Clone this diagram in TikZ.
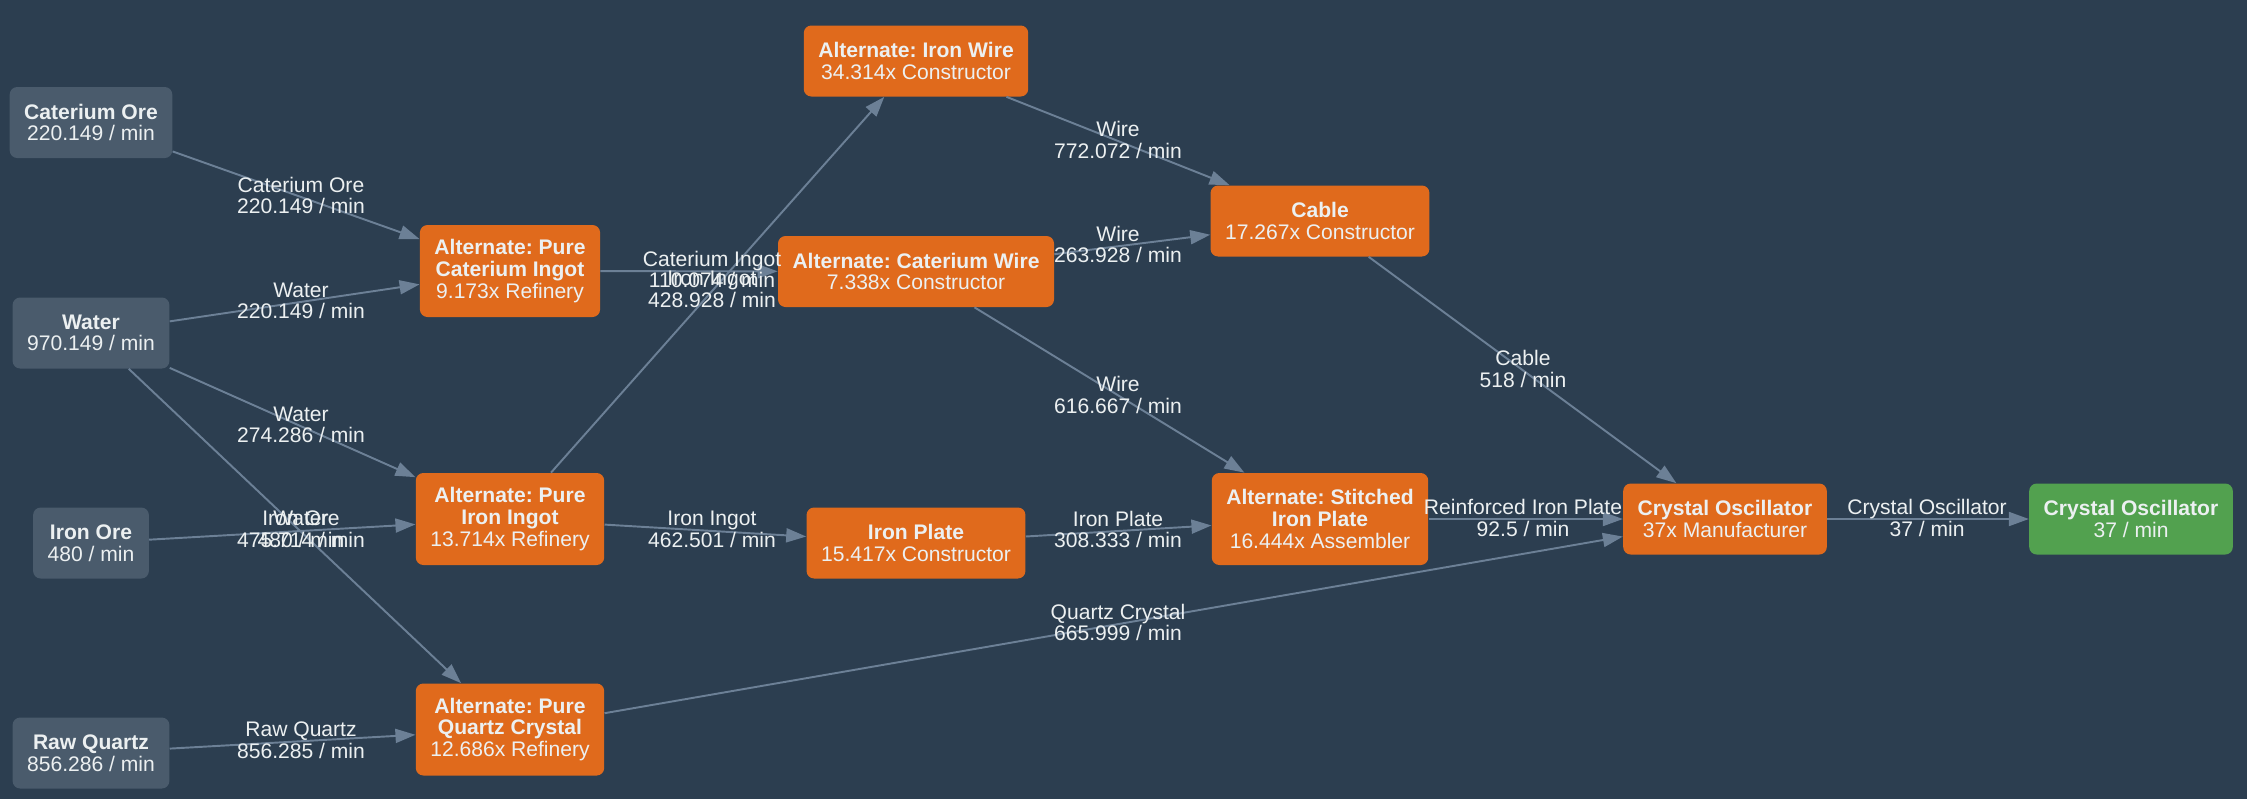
\documentclass[tikz,border=0pt]{standalone}
\usepackage{fontspec}
\setmainfont{Liberation Sans}
\usepackage{tikz}
\usetikzlibrary{arrows.meta}
\frenchspacing

\definecolor{bgcol}{RGB}{44,62,80}
\definecolor{rawcol}{RGB}{74,91,108}
\definecolor{recipecol}{RGB}{224,106,28}
\definecolor{outcol}{RGB}{82,161,79}
\definecolor{edgecol}{RGB}{108,128,150}
\definecolor{txtcol}{RGB}{236,240,241}

\tikzset{
  box/.style={rounded corners=0.15cm, text=txtcol, align=center, inner xsep=0.29cm, inner ysep=0pt, minimum height=1.42cm, font=\fontsize{12}{12.3}\selectfont},
  raw/.style={box, fill=rawcol},
  recipe/.style={box, fill=recipecol},
  tall/.style={minimum height=1.84cm},
  product/.style={box, fill=outcol},
  flow/.style={draw=edgecol, line width=1.1pt, -{Triangle[length=0.4cm,width=0.28cm]}},
  rate/.style={text=txtcol, align=center, inner sep=0pt, font=\fontsize{12}{12.3}\selectfont}
}

\begin{document}
\begin{tikzpicture}[x=0.02cm,y=-0.02cm]
  % Constants
  \pgfmathsetmacro\ca{91}
  \pgfmathsetmacro\cb{510}
  \pgfmathsetmacro\cc{916}
  \pgfmathsetmacro\cd{1320}
  \pgfmathsetmacro\ce{1725}
  \pgfmathsetmacro\cf{2131}
  % Boundary
  \path[use as bounding box] (0,0) rectangle (2247,799);
  \fill[bgcol] (0,0) rectangle (2247,799);
  % Resources
  \node[raw] (cateriumore) at (\ca,122.5) {{\bfseries Caterium Ore}\\220.149 / min};
  \node[raw] (water) at (\ca,333) {{\bfseries Water}\\970.149 / min};
  \node[raw] (ironore) at (\ca,543) {{\bfseries Iron Ore}\\480 / min};
  \node[raw] (rawquartz) at (\ca,753) {{\bfseries Raw Quartz}\\856.286 / min};
  % Refineries
  \node[recipe,tall] (pureingot) at (\cb,271) {{\bfseries Alternate: Pure}\\{\bfseries Caterium Ingot}\\9.173x Refinery};
  \node[recipe,tall] (pureiron) at (\cb,519) {{\bfseries Alternate: Pure}\\{\bfseries Iron Ingot}\\13.714x Refinery};
  \node[recipe,tall] (purequartz) at (\cb,729.5) {{\bfseries Alternate: Pure}\\{\bfseries Quartz Crystal}\\12.686x Refinery};
  % Constructors
  \node[recipe] (ironwire) at (\cc,61) {{\bfseries Alternate: Iron Wire}\\34.314x Constructor};
  \node[recipe] (catwire) at (\cc,271.5) {{\bfseries Alternate: Caterium Wire}\\7.338x Constructor};
  \node[recipe] (ironplate) at (\cc,543) {{\bfseries Iron Plate}\\15.417x Constructor};
  \node[recipe] (cable) at (\cd,221) {{\bfseries Cable}\\17.267x Constructor};
  \node[recipe,tall] (stitched) at (\cd,519) {{\bfseries Alternate: Stitched}\\{\bfseries Iron Plate}\\16.444x Assembler};
  \node[recipe] (oscillator) at (\ce,519) {{\bfseries Crystal Oscillator}\\37x Manufacturer};
  \node[product] (output) at (\cf,519) {{\bfseries Crystal Oscillator}\\37 / min};
  % Flows
  \draw[flow] (cateriumore) -- (pureingot);
  \draw[flow] (water) -- (pureingot);
  \draw[flow] (water) -- (pureiron);
  \draw[flow] (water) -- (purequartz);
  \draw[flow] (ironore) -- (pureiron);
  \draw[flow] (rawquartz) -- (purequartz);
  \draw[flow] (pureingot) -- (catwire);
  \draw[flow] (pureiron) -- (ironwire);
  \draw[flow] (pureiron) -- (ironplate);
  \draw[flow] (ironwire) -- (cable);
  \draw[flow] (catwire) -- (cable);
  \draw[flow] (catwire) -- (stitched);
  \draw[flow] (ironplate) -- (stitched);
  \draw[flow] (cable) -- (oscillator);
  \draw[flow] (stitched) -- (oscillator);
  \draw[flow] (purequartz) -- (oscillator);
  \draw[flow] (oscillator) -- (output);
  % Rates
  \node[rate] (r1) at (301,195.6) {Caterium Ore\\220.149 / min};
  \node[rate] (r2) at (301,301) {Water\\220.149 / min};
  \node[rate] (r3) at (301,425) {Water\\274.286 / min};
  \node[rate] (r4) at (301,529.5) {Water\\475.714 / min};
  \node[rate] (r5) at (301,529.5) {Iron Ore\\480 / min};
  \node[rate] (r6) at (301,740) {Raw Quartz\\856.285 / min};
  \node[rate] (r7) at (712,269.4) {Caterium Ingot\\110.074 / min};
  \node[rate] (r8) at (712,289.5) {Iron Ingot\\428.928 / min};
  \node[rate] (r9) at (712,529.5) {Iron Ingot\\462.501 / min};
  \node[rate] (r10) at (1118,139.7) {Wire\\772.072 / min};
  \node[rate] (r11) at (1118,244.3) {Wire\\263.928 / min};
  \node[rate] (r12) at (1118,394.8) {Wire\\616.667 / min};
  \node[rate] (r13) at (1118,529.5) {Iron Plate\\308.333 / min};
  \node[rate] (r14) at (1118,622.6) {Quartz Crystal\\665.999 / min};
  \node[rate] (r15) at (1523,369) {Cable\\518 / min};
  \node[rate] (r16) at (1523,518) {Reinforced Iron Plate\\92.5 / min};
  \node[rate] (r17) at (1927,518) {Crystal Oscillator\\37 / min};
\end{tikzpicture}
\end{document}
